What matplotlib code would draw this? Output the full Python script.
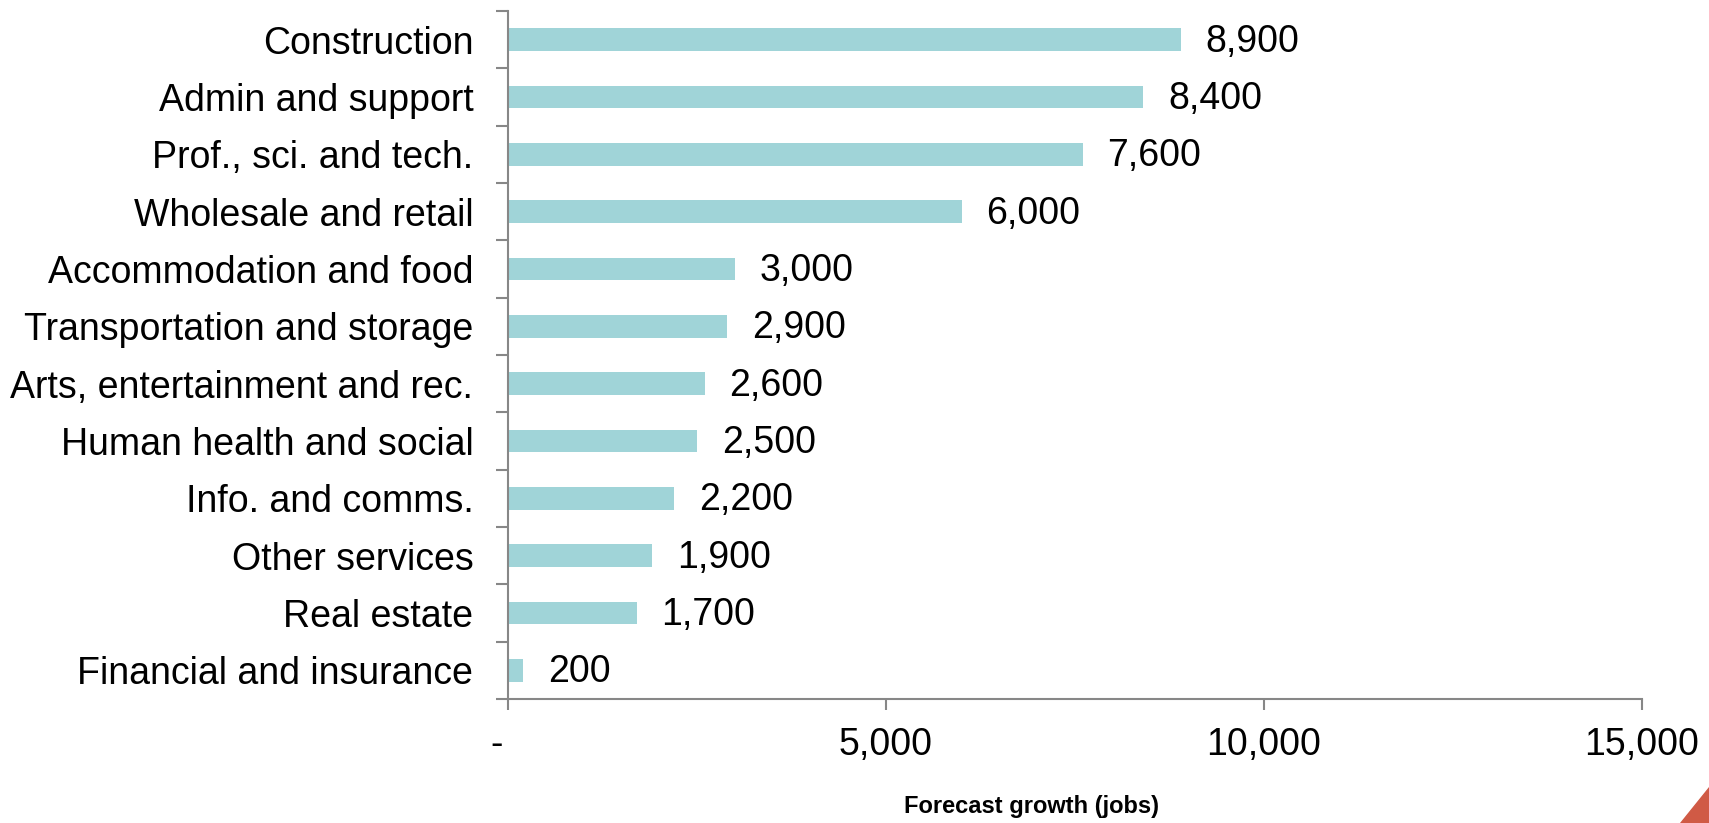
import matplotlib
matplotlib.use("Agg")
import matplotlib.pyplot as plt
from matplotlib.patches import Polygon
from matplotlib.ticker import FixedLocator

plt.rcParams["font.family"] = ["Liberation Sans", "DejaVu Sans"]

# Forecast job growth by sector
sectors = [
    "Construction",
    "Admin and support",
    "Prof., sci. and tech.",
    "Wholesale and retail",
    "Accommodation and food",
    "Transportation and storage",
    "Arts, entertainment and rec.",
    "Human health and social",
    "Info. and comms.",
    "Other services",
    "Real estate",
    "Financial and insurance",
]
growth = [8900, 8400, 7600, 6000, 3000, 2900, 2600, 2500, 2200, 1900, 1700, 200]

x_ticks = [0, 5000, 10000, 15000]
x_tick_labels = ["-  ", "5,000", "10,000", "15,000"]

bar_color = "#a0d4d8"
axis_color = "#878787"
accent_red = "#d05a45"

W, H = 1709, 823
fig = plt.figure(figsize=(W / 100, H / 100), dpi=100)
ax = fig.add_axes([508 / W, 1 - 699 / H, (1642 - 508) / W, (699 - 11) / H])

n = len(sectors)
ypos = list(range(n - 1, -1, -1))
ax.barh(ypos, growth, height=0.4, color=bar_color, zorder=2)

for y, v in zip(ypos, growth):
    ax.annotate(f"{v:,}", xy=(v, y), xytext=(25, -2), textcoords="offset pixels",
                va="center", ha="left", fontsize=27, color="black")

ax.set_xlim(0, 15000)
ax.set_ylim(-0.5, n - 0.5)

# category labels centred on bars, tick marks on category boundaries
ax.set_yticks(ypos)
ax.set_yticklabels(sectors, fontsize=27)
ax.tick_params(axis="y", which="major", length=0, pad=25)
ax.yaxis.set_minor_locator(FixedLocator([i - 0.5 for i in range(n + 1)]))
ax.tick_params(axis="y", which="minor", length=8.6, width=1.5, color=axis_color,
               direction="out")

ax.set_xticks(x_ticks)
ax.set_xticklabels(x_tick_labels, fontsize=27)
ax.tick_params(axis="x", length=8, width=1.5, color=axis_color, direction="out", pad=12)

for side in ("top", "right"):
    ax.spines[side].set_visible(False)
for side in ("left", "bottom"):
    ax.spines[side].set_color(axis_color)
    ax.spines[side].set_linewidth(1.5)

fig.text(1031 / W, 1 - 806 / H, "Forecast growth (jobs)", ha="center", va="center",
         fontsize=17, fontweight="bold")

# corner accent
fig.patches.append(Polygon([(1680 / W, 0), (1, 0), (1, 36 / H)], closed=True,
                           transform=fig.transFigure, color=accent_red))

fig.savefig("out.png", dpi=100)
